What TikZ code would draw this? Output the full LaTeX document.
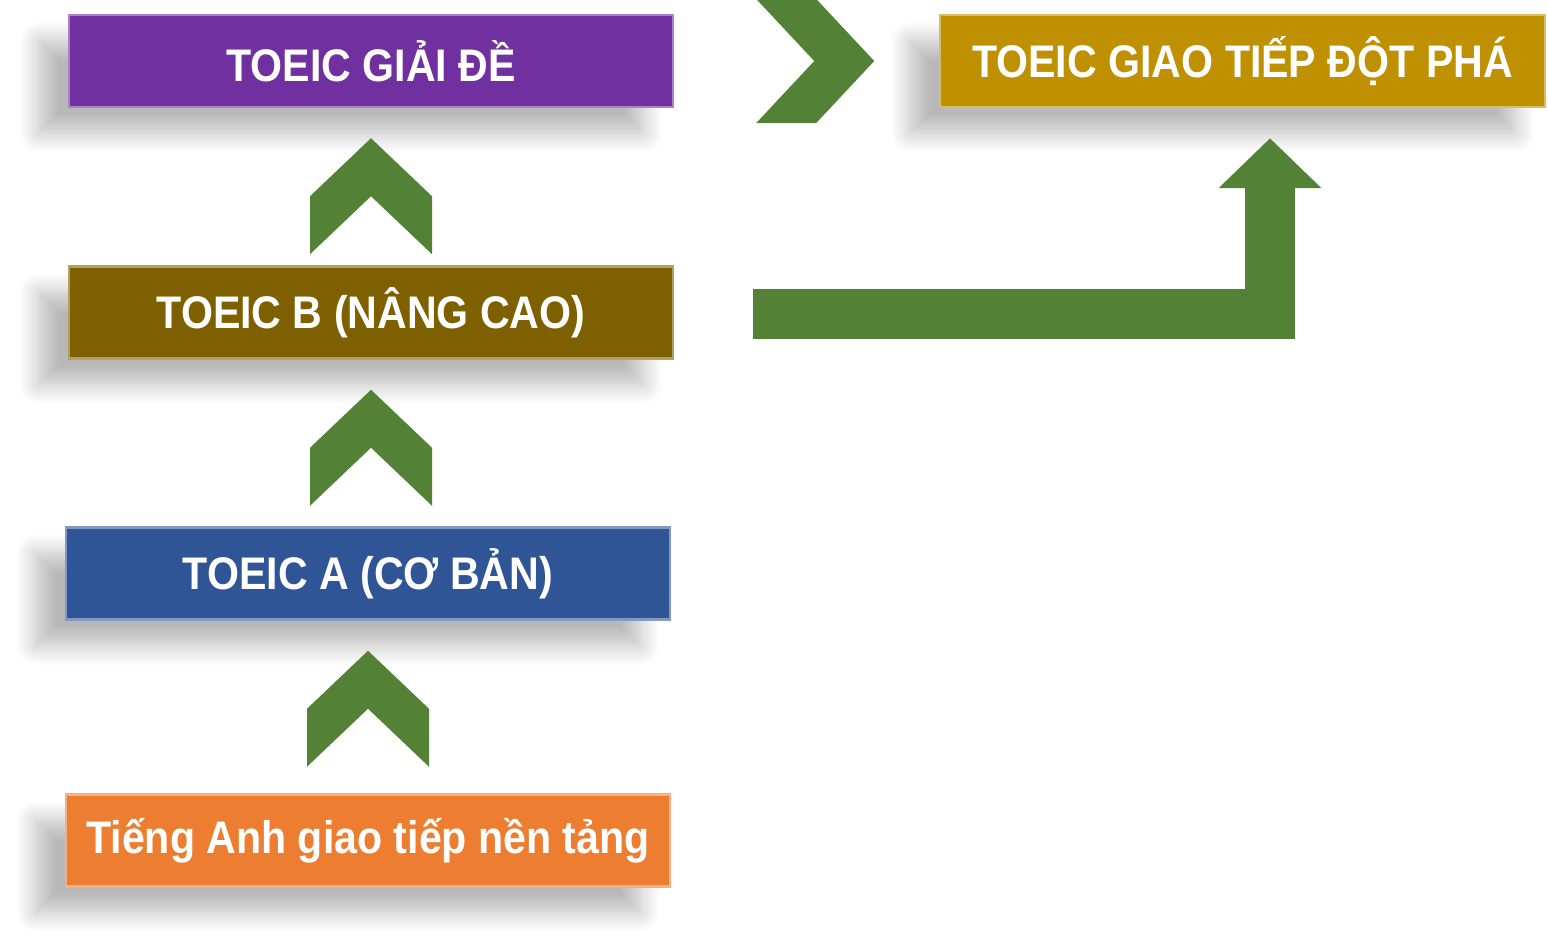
\documentclass[tikz,border=0pt]{standalone}
\usepackage{fontspec}
\newfontfamily\boxfont{Liberation Sans}[FakeStretch=0.9]
\usetikzlibrary{calc,arrows.meta,shadows.blur}
\definecolor{purpleC}{HTML}{7030A0}
\definecolor{brownC}{HTML}{7F6000}
\definecolor{blueC}{HTML}{2F5597}
\definecolor{orangeC}{HTML}{ED7D31}
\definecolor{goldC}{HTML}{BF9000}
\definecolor{greenC}{HTML}{538135}
\begin{document}
\begin{tikzpicture}[
    stage/.style={minimum width=6.04cm, minimum height=0.92cm, inner sep=0pt,
        text=white, font=\boxfont\bfseries\fontsize{13}{15}\selectfont,
        line width=0.7pt,
        blur shadow={shadow xshift=-0.3cm, shadow yshift=-0.26cm,
            shadow blur radius=0.2cm, shadow blur steps=12, shadow opacity=28}},
    chev/.style={fill=greenC},
    bendarrow/.style={draw=greenC, line width=0.5cm, line join=miter,
        -{Triangle[width=1cm, length=0.5cm, fill=greenC]}}
]
    \useasboundingbox (0, 0) rectangle (15.48, -9.43);
    % stages
    \node[stage, fill=purpleC, draw=purpleC!60!white] (giaide) at (3.71, -0.61) {TOEIC GIẢI ĐỀ};
    \node[stage, fill=brownC, draw=brownC!60!white] (nangcao) at (3.71, -3.125) {TOEIC B (NÂNG CAO)};
    \node[stage, fill=blueC, draw=blueC!60!white] (coban) at (3.68, -5.735) {TOEIC A (CƠ BẢN)};
    \node[stage, fill=orangeC, draw=orangeC!60!white] (nentang) at (3.68, -8.405) {Tiếng Anh giao tiếp nền tảng};
    \node[stage, fill=goldC, draw=goldC!60!white, minimum width=6.05cm] (giaotiep) at (12.425, -0.61) {TOEIC GIAO TIẾP ĐỘT PHÁ};
    % up chevrons
    \foreach \hi in {giaide, nangcao, coban}
        \fill[chev] ($(\hi.south)+(0, -0.30)$) -- ++(0.61, -0.58) -- ++(0, -0.58)
            -- ++(-0.61, 0.58) -- ++(-0.61, -0.58) -- ++(0, 0.58) -- cycle;
    % right chevron
    \fill[chev] ($(giaide.east)+(0.82, 0.62)$) -- ++(0.60, 0) -- ++(0.58, -0.62)
        -- ++(-0.58, -0.62) -- ++(-0.60, 0) -- ++(0.58, 0.62) -- cycle;
    % bent arrow
    \coordinate (bstart) at ($(nangcao.east)+(0.79, -0.01)$);
    \coordinate (bend) at ($(giaotiep.south)+(0.275, -0.30)$);
    \draw[bendarrow] (bstart) -| (bend);
\end{tikzpicture}
\end{document}
